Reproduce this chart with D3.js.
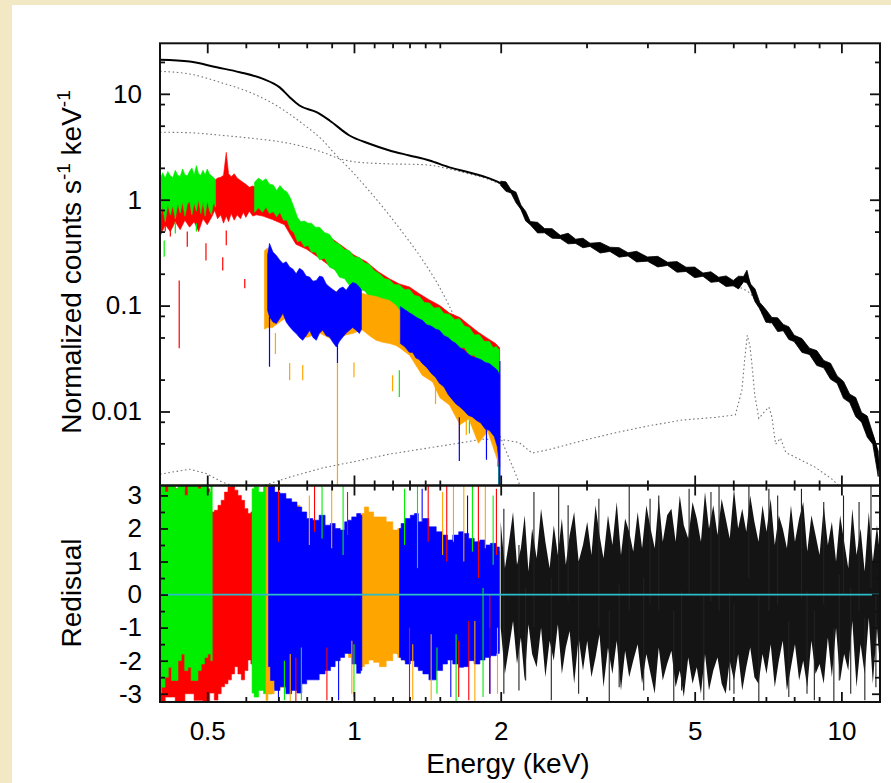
<!DOCTYPE html>
<html>
<head>
<meta charset="utf-8">
<script src="https://cdn.jsdelivr.net/npm/d3@7"></script>
<style>
  body { margin: 0; background: #f2e8c4; }
  svg { display: block; }
  text { font-family: "Liberation Sans", Arial, Helvetica, sans-serif; fill: #000; }
</style>
</head>
<body>
<svg id="spec" width="891" height="783"></svg>
<script>
// ----- model curves (keV, normalized counts s^-1 keV^-1) -----
const modelE = [0.40,0.46,0.523,0.583,0.649,0.704,0.738,0.773,0.838,0.891,0.979,1.076,1.183,1.299,1.428,1.57,1.725,1.895,2.034,2.133,2.204,2.289,2.399,2.726,3.185,3.722,4.369,5.105,5.966,6.2,6.374,6.556,7.003,7.552,8.184,8.866,9.561,10.36,11.23,11.77,12.0];
const modelTotal = [21.0,20.2,17.8,16.0,13.9,11.5,9.3,7.76,6.7,5.6,4.04,3.38,2.92,2.62,2.35,2.02,1.81,1.59,1.36,1.10,0.83,0.61,0.536,0.43,0.357,0.298,0.249,0.200,0.164,0.16,0.19,0.139,0.078,0.063,0.0441,0.0327,0.0230,0.0137,0.0078,0.0046,0.0025];

const softE = [0.4,0.46,0.538,0.611,0.693,0.785,0.863,0.92,0.979,1.059,1.146,1.249,1.385,1.497,1.619,1.766,1.895,1.987,2.181,2.3];
const softComp = [16.3,15.4,12.6,10.35,7.76,5.21,3.63,2.62,1.96,1.31,0.852,0.513,0.267,0.15,0.0727,0.0275,0.0123,0.0062,0.0021,0.001];

const powE = [0.4,0.46,0.537,0.631,0.713,0.796,0.862,0.934,1.01,1.183,1.362,1.428,1.57,1.725,1.895,2.034,2.133,2.204,2.289,2.399,2.726,3.185,3.722,4.369,5.105,5.966,6.2,6.556,7.003,7.552,8.184,8.866,9.561,10.36,11.23,11.77,12.0];
const powComp = [4.34,4.29,4.05,3.76,3.50,3.13,2.81,2.44,2.27,2.18,2.15,2.12,1.95,1.75,1.55,1.32,1.07,0.81,0.6,0.525,0.42,0.35,0.29,0.242,0.195,0.155,0.148,0.125,0.074,0.06,0.042,0.031,0.022,0.013,0.0074,0.0044,0.0024];

const lineE = [0.4,0.46,0.497,0.537,0.583,0.649,0.738,0.862,1.01,1.183,1.381,1.619,1.833,2.05,2.181,2.32,2.51,2.94,3.44,4.01,4.71,5.52,6.06,6.25,6.33,6.41,6.49,6.55,6.64,6.77,7.0,7.1,7.2,7.33,7.5,7.69,8.81,9.56,10.1,11.0];
const lineComp = [0.00256,0.00285,0.0026,0.00215,0.0019,0.00198,0.0024,0.00293,0.00339,0.00396,0.00443,0.00497,0.00548,0.00536,0.0051,0.00405,0.00436,0.0053,0.0063,0.0073,0.0083,0.0088,0.0093,0.0159,0.0305,0.0525,0.042,0.0285,0.0144,0.0086,0.0103,0.011,0.0089,0.0049,0.0056,0.0041,0.003,0.0023,0.0018,0.0012];

// ----- black data (2-12 keV): value and error half-height in dex -----
const blackE = [2.0,2.05,2.1,2.15,2.2,2.25,2.3,2.38,2.46,2.55,2.65,2.75,2.85,2.95,3.05,3.2,3.35,3.5,3.65,3.8,4.0,4.2,4.4,4.6,4.8,5.0,5.2,5.4,5.6,5.8,6.0,6.15,6.3,6.4,6.5,6.65,6.8,7.0,7.2,7.4,7.6,7.8,8.0,8.3,8.6,8.9,9.2,9.5,9.8,10.1,10.4,10.7,11.0,11.3,11.6,11.9];
const blackCounts = [1.43,1.33,1.2,1.05,0.85,0.7,0.6,0.545,0.51,0.48,0.445,0.43,0.405,0.39,0.375,0.352,0.34,0.318,0.305,0.29,0.275,0.26,0.248,0.232,0.22,0.206,0.196,0.186,0.177,0.17,0.163,0.165,0.178,0.188,0.152,0.125,0.1,0.08,0.073,0.066,0.062,0.055,0.049,0.042,0.037,0.032,0.028,0.024,0.02,0.016,0.0133,0.011,0.0088,0.0072,0.0055,0.0032];
const blackErr = [0.02,0.045,0.015,0.05,0.02,0.045,0.015,0.05,0.02,0.045,0.015,0.05,0.02,0.045,0.015,0.05,0.02,0.045,0.015,0.05,0.02,0.05,0.015,0.05,0.02,0.05,0.015,0.05,0.02,0.05,0.025,0.06,0.025,0.06,0.025,0.06,0.03,0.06,0.025,0.065,0.03,0.06,0.03,0.065,0.03,0.07,0.035,0.075,0.035,0.08,0.04,0.09,0.045,0.1,0.05,0.12];

// ----- coloured data bands (low / high edges) -----
const redE = [0.400,0.41,0.42,0.43,0.44,0.45,0.46,0.47,0.48,0.49,0.50,0.51,0.518,0.525,0.533,0.54,0.547,0.553,0.56,0.568,0.576,0.585,0.593,0.60,0.61,0.62,0.63,0.65,0.68,0.72,0.76,0.80,0.85,0.9,0.95,1.0,1.06,1.12,1.18,1.24,1.3,1.36,1.42,1.5,1.57,1.65,1.72,1.8,1.88,1.95,1.99];
const redHigh = [1.35,1.4,1.45,1.42,1.5,1.46,1.55,1.5,1.58,1.52,1.6,1.55,1.52,1.6,1.63,1.7,2.8,1.76,1.65,1.76,1.6,1.52,1.45,1.4,1.31,1.35,1.3,1.3,1.2,1.05,0.62,0.57,0.5,0.43,0.36,0.3,0.26,0.21,0.18,0.16,0.15,0.13,0.115,0.1,0.085,0.077,0.066,0.056,0.049,0.044,0.04];
const redLow = [0.45,0.58,0.5,0.62,0.52,0.64,0.55,0.62,0.5,0.66,0.58,0.68,0.79,0.66,0.72,0.6,0.7,0.62,0.74,0.64,0.72,0.66,0.76,0.68,0.78,0.7,0.72,0.7,0.65,0.58,0.38,0.34,0.28,0.23,0.19,0.16,0.135,0.115,0.098,0.085,0.075,0.068,0.06,0.052,0.045,0.04,0.034,0.028,0.025,0.022,0.02];

const greenE1 = [0.400,0.405,0.41,0.415,0.42,0.425,0.43,0.435,0.44,0.445,0.45,0.455,0.46,0.465,0.47,0.475,0.48,0.485,0.49,0.495,0.50,0.505,0.51,0.515,0.52];
const greenHigh1 = [1.55,1.8,1.6,1.85,1.68,1.62,1.9,1.7,1.66,1.95,1.72,1.68,1.86,2.0,1.72,2.1,1.76,1.7,1.9,1.72,1.95,1.76,1.68,1.62,1.55];
const greenLow1 = [0.68,0.85,0.62,0.9,0.72,0.88,0.66,0.92,0.75,0.95,0.7,0.9,0.98,0.72,0.93,0.78,1.0,0.74,0.95,0.7,0.98,0.8,0.72,0.95,0.85];

const greenE2 = [0.625,0.637,0.649,0.66,0.671,0.683,0.694,0.705,0.717,0.729,0.741,0.753,0.766,0.778,0.791,0.805,0.818,0.834,0.850,0.87,0.891,0.912,0.934,0.956,0.979,1.0,1.026,1.05,1.076,1.1,1.128,1.155,1.183,1.21,1.239,1.27,1.299,1.33,1.362,1.395,1.428,1.46,1.497,1.53,1.570,1.61,1.645,1.685,1.725,1.765,1.808,1.85,1.895,1.93,1.96,1.985];
const greenHigh2 = [1.46,1.6,1.5,1.58,1.4,1.38,1.22,1.36,1.24,1.18,1.03,0.85,0.68,0.62,0.63,0.6,0.6,0.55,0.55,0.49,0.47,0.4,0.38,0.34,0.33,0.29,0.285,0.255,0.245,0.215,0.2,0.18,0.175,0.158,0.157,0.142,0.143,0.125,0.122,0.107,0.106,0.095,0.096,0.084,0.083,0.074,0.075,0.064,0.062,0.053,0.053,0.046,0.046,0.04,0.041,0.038];
const greenLow2 = [0.76,0.84,0.76,0.85,0.74,0.77,0.69,0.76,0.64,0.64,0.52,0.49,0.4,0.41,0.36,0.37,0.32,0.32,0.27,0.28,0.23,0.22,0.185,0.18,0.155,0.16,0.14,0.14,0.12,0.118,0.104,0.102,0.091,0.09,0.081,0.081,0.074,0.074,0.067,0.066,0.059,0.058,0.051,0.051,0.045,0.045,0.04,0.04,0.034,0.034,0.029,0.029,0.025,0.025,0.021,0.018];

const orangeE = [0.655,0.665,0.68,0.72,0.76,0.8,0.85,0.9,0.95,1.0,1.026,1.042,1.076,1.11,1.146,1.183,1.22,1.24,1.3,1.38,1.45,1.5,1.57,1.65,1.72,1.8,1.88,1.95,1.99];
const orangeHigh = [0.33,0.35,0.3,0.24,0.2,0.18,0.16,0.14,0.13,0.14,0.13,0.13,0.125,0.122,0.116,0.112,0.10,0.09,0.085,0.07,0.06,0.055,0.045,0.04,0.034,0.03,0.027,0.024,0.02];
const orangeLow = [0.06,0.062,0.062,0.075,0.058,0.05,0.055,0.048,0.052,0.055,0.058,0.0585,0.052,0.047,0.045,0.0438,0.042,0.04,0.034,0.022,0.019,0.0135,0.0115,0.0075,0.0085,0.005,0.0065,0.004,0.003];

const blueE1 = [0.665,0.671,0.682,0.693,0.704,0.715,0.726,0.738,0.75,0.761,0.773,0.785,0.798,0.811,0.824,0.837,0.85,0.863,0.877,0.891,0.905,0.920,0.934,0.949,0.964,0.979,0.994,1.010,1.026,1.036];
const blueHigh1 = [0.30,0.387,0.32,0.298,0.27,0.250,0.26,0.232,0.22,0.20,0.225,0.215,0.19,0.186,0.17,0.173,0.19,0.186,0.16,0.150,0.142,0.134,0.145,0.150,0.14,0.155,0.165,0.161,0.150,0.14];
const blueLow1 = [0.09,0.0784,0.07,0.0676,0.075,0.0846,0.07,0.063,0.058,0.0545,0.05,0.047,0.052,0.0585,0.05,0.047,0.055,0.0585,0.052,0.0505,0.045,0.0406,0.046,0.0505,0.055,0.0585,0.062,0.0585,0.0545,0.06];

const blueE2 = [1.245,1.27,1.299,1.32,1.34,1.36,1.381,1.41,1.44,1.47,1.497,1.53,1.56,1.59,1.619,1.65,1.68,1.715,1.749,1.785,1.82,1.86,1.895,1.94,1.968,1.99];
const blueHigh2 = [0.0979,0.092,0.0858,0.082,0.078,0.075,0.0727,0.066,0.064,0.06,0.0585,0.052,0.05,0.046,0.0438,0.04,0.038,0.035,0.0328,0.032,0.031,0.029,0.0284,0.026,0.0245,0.022];
const blueLow2 = [0.0438,0.041,0.0362,0.036,0.032,0.031,0.0284,0.026,0.023,0.021,0.0185,0.017,0.0145,0.013,0.0118,0.011,0.0102,0.0092,0.00889,0.0082,0.0078,0.0068,0.00666,0.0058,0.00464,0.003];

// isolated error bars [keV, low, high]
const redSpikes = [[0.438,0.0395,0.173],[0.497,0.267,0.387],[0.538,0.215,0.286],[0.547,0.371,0.513],[0.597,0.146,0.178],[0.41,0.5,0.62],[0.42,0.45,0.7],[0.455,0.36,0.5],[1.975,0.003,0.03]];
const greenSpikes = [[0.408,0.29,0.413],[0.475,0.5,0.6],[0.43,0.48,0.62],[1.239,0.0137,0.0245],[1.725,0.0062,0.0088],[1.982,0.002,0.025]];
const orangeSpikes = [[0.925,0.00202,0.0287],[0.738,0.0197,0.0287],[0.785,0.0197,0.0275],[1.0,0.021,0.029],[1.2,0.0155,0.022],[1.47,0.0118,0.0172],[1.645,0.0054,0.0105],[1.7,0.006,0.012],[0.69,0.035,0.055]];
const blueSpikes = [[0.671,0.0264,0.078],[0.925,0.0287,0.047],[1.645,0.0034,0.0088],[1.87,0.0035,0.0067],[1.985,0.002,0.012],[1.992,0.002,0.03]];

// ----- residuals (sigma) -----
const resRedE = [0.400,0.42,0.44,0.46,0.48,0.50,0.512,0.522,0.530,0.538,0.547,0.556,0.565,0.573,0.583,0.592,0.601,0.611,0.618];
const resRedHigh = [3.3,3.3,3.2,3.3,3.3,3.2,2.5,2.55,2.7,2.85,3.1,3.26,3.3,3.16,3.0,2.85,2.6,2.45,2.5];
const resRedLow = [-3.25,-3.1,-3.25,-3.0,-3.2,-3.25,-2.98,-3.19,-3.0,-2.79,-2.7,-2.58,-2.4,-2.18,-2.4,-2.58,-2.3,-1.98,-2.1];

const resGreenE1 = [0.400,0.406,0.413,0.419,0.426,0.432,0.439,0.446,0.453,0.460,0.467,0.475,0.482,0.490,0.497,0.505,0.512];
const resGreenHigh1 = [3.3,3.3,3.1,3.3,3.3,3.2,3.3,3.3,3.0,3.3,3.3,3.3,3.2,3.3,3.3,3.1,3.3];
const resGreenLow1 = [-3.0,-2.8,-2.5,-2.2,-2.6,-2.6,-2.0,-1.8,-2.3,-2.2,-2.6,-2.6,-2.3,-2.1,-1.9,-1.8,-2.0];

const resGreenE2 = [0.618,0.63,0.645,0.66,0.70,0.75,0.80,0.85,0.90,0.95,1.0,1.05,1.1,1.15,1.2,1.25,1.3,1.35,1.4,1.45,1.5,1.55,1.6,1.65,1.7,1.75,1.8,1.85,1.9,1.95,1.99];
const resGreenHigh2 = [3.2,3.26,3.1,3.26,2.9,2.6,2.2,2.0,1.9,1.8,2.0,2.0,1.9,2.0,1.8,1.9,2.1,2.0,1.9,1.8,1.7,1.6,1.6,1.6,1.5,1.5,1.5,1.4,1.4,1.3,1.3];
const resGreenLow2 = [-2.98,-3.1,-2.9,-3.0,-2.7,-2.6,-2.4,-2.3,-2.0,-1.7,-1.8,-1.8,-1.8,-1.9,-1.7,-1.8,-1.9,-2.0,-2.2,-2.3,-2.1,-1.9,-1.9,-2.0,-1.9,-1.9,-1.8,-1.8,-1.7,-1.7,-1.7];

const resOrangeE = [0.66,0.672,0.70,0.75,0.80,0.85,0.90,0.95,1.0,1.03,1.042,1.059,1.085,1.11,1.146,1.183,1.22,1.24,1.3,1.4,1.5,1.6,1.7,1.8,1.9,1.99];
const resOrangeHigh = [3.3,3.3,3.0,2.7,2.2,2.0,1.9,1.8,2.1,2.4,2.45,2.65,2.5,2.35,2.35,2.2,1.95,2.0,2.0,1.8,1.6,1.5,1.5,1.4,1.4,1.3];
const resOrangeLow = [-3.2,-3.0,-2.8,-2.6,-2.4,-2.2,-2.0,-1.7,-1.9,-2.2,-2.18,-2.1,-1.98,-2.05,-2.18,-2.0,-1.78,-1.9,-2.0,-2.2,-2.0,-1.9,-1.8,-1.8,-1.7,-1.6];

const resBlueE1 = [0.668,0.68,0.695,0.715,0.735,0.755,0.773,0.79,0.81,0.837,0.86,0.885,0.905,0.925,0.949,0.965,0.979,1.0,1.026,1.038];
const resBlueHigh1 = [3.26,3.3,3.1,3.06,2.9,2.8,2.65,2.5,2.3,2.25,2.4,2.1,2.15,2.0,1.95,2.2,2.25,2.35,2.45,2.4];
const resBlueLow1 = [-2.18,-2.6,-2.9,-2.79,-3.0,-2.9,-2.98,-2.7,-2.58,-2.58,-2.4,-2.3,-2.18,-2.0,-1.9,-1.78,-1.78,-2.1,-2.38,-2.3];

const resBlueE2 = [1.24,1.259,1.29,1.32,1.341,1.37,1.4,1.45,1.5,1.54,1.57,1.62,1.66,1.698,1.74,1.79,1.835,1.88,1.93,1.987];
const resBlueHigh2 = [2.0,2.15,2.3,2.4,2.45,2.2,2.3,2.05,1.9,1.8,1.65,1.8,1.9,1.85,1.7,1.6,1.65,1.5,1.55,1.44];
const resBlueLow2 = [-1.9,-1.98,-2.1,-2.0,-2.18,-2.3,-2.4,-2.58,-2.3,-2.1,-1.98,-2.1,-2.2,-2.18,-2.0,-2.1,-1.98,-1.9,-1.85,-1.78];

const resBlackE = [2.00,2.04,2.08,2.12,2.16,2.20,2.24,2.28,2.32,2.37,2.42,2.47,2.52,2.57,2.62,2.67,2.72,2.77,2.83,2.89,2.95,3.01,3.07,3.13,3.19,3.25,3.32,3.39,3.46,3.53,3.6,3.67,3.74,3.82,3.9,3.98,4.06,4.14,4.22,4.3,4.39,4.48,4.57,4.66,4.75,4.85,4.95,5.05,5.15,5.25,5.35,5.46,5.57,5.68,5.79,5.9,6.02,6.14,6.26,6.38,6.5,6.63,6.76,6.89,7.02,7.16,7.3,7.44,7.58,7.73,7.88,8.03,8.19,8.35,8.51,8.68,8.85,9.02,9.2,9.38,9.56,9.75,9.94,10.13,10.33,10.53,10.74,10.95,11.16,11.38,11.6,11.83,12.0];
const resBlackHigh = [2.2,0.8,1.6,2.5,0.9,1.4,2.4,0.7,2.0,1.1,2.6,1.6,0.8,2.1,1.2,2.3,0.9,1.8,2.5,1.0,1.5,2.2,1.2,2.7,1.8,1.1,2.4,1.5,2.8,1.2,2.3,1.9,1.3,2.5,1.4,2.7,2.0,1.4,2.9,1.6,2.4,2.6,1.6,3.0,2.1,1.7,2.8,2.3,1.6,3.1,2.0,2.7,1.8,2.9,2.3,1.7,3.2,2.0,2.6,1.9,3.0,2.2,1.6,2.7,1.9,2.9,1.5,2.4,2.0,1.4,2.7,1.6,2.3,2.8,1.3,2.4,1.8,1.2,2.7,1.5,2.2,1.0,2.4,1.6,0.8,2.6,1.2,2.0,0.7,2.5,1.0,2.1,1.2];
const resBlackLow = [-1.0,-2.4,-1.6,-0.8,-2.1,-1.3,-2.6,-0.9,-1.8,-2.2,-1.0,-2.5,-1.4,-2.0,-0.9,-2.4,-1.6,-1.1,-2.7,-1.3,-2.3,-1.4,-2.5,-1.9,-1.2,-2.8,-1.6,-2.4,-1.4,-2.9,-1.7,-2.5,-2.0,-1.5,-2.7,-1.8,-2.4,-3.0,-1.6,-2.6,-2.1,-1.7,-2.8,-2.3,-3.1,-1.9,-2.7,-2.2,-3.0,-1.8,-2.9,-2.3,-1.9,-2.7,-3.0,-2.0,-2.6,-1.8,-2.9,-2.2,-1.6,-2.5,-2.7,-1.8,-2.4,-1.5,-2.8,-2.0,-1.4,-2.9,-2.2,-1.5,-2.6,-2.0,-2.8,-1.4,-2.4,-2.1,-2.7,-1.3,-2.5,-1.0,-2.6,-1.8,-2.3,-0.8,-2.8,-1.5,-2.4,-0.7,-2.7,-1.0,-2.2];
const resBlackSpikes = [[2.03,-3.0,2.6],[2.18,-2.9,1.5],[2.34,-1.0,3.1],[2.54,-3.2,0.5],[2.63,0.0,3.3],[2.89,-3.0,1.0],[3.18,-1.0,2.9],[3.34,-3.25,-0.5],[3.67,-0.5,3.3],[3.93,-2.9,0.5],[4.22,-0.5,3.0],[4.53,-3.25,-0.5],[4.87,0.0,3.2],[5.22,-3.2,0.0],[5.61,-0.5,3.3],[6.02,-3.0,-0.3],[6.46,0.5,3.3],[6.77,-3.25,0.0],[7.1,-0.5,3.2],[7.8,-3.1,-0.8],[8.28,-0.1,3.2],[8.8,-3.2,-0.5],[9.2,-0.3,2.8],[9.65,-3.25,-1.0],[10.1,0.0,3.0],[10.45,-3.0,0.2],[10.87,-0.5,2.8],[11.17,-3.2,-0.7],[11.5,0.2,3.3],[11.77,-2.8,0.0],[2.25,-2.6,0.2],[2.75,-0.2,2.7],[3.5,-2.8,0.3],[4.05,-0.3,2.9],[4.7,-2.9,0.1],[5.4,-0.2,3.1],[5.9,-2.9,0.1],[7.4,-0.3,3.0],[8.5,-3.0,0.1],[9.9,-2.6,0.6]];

const redResSpikes = [[0.70,1.6,3.3],[0.76,-3.25,-1.9],[0.83,1.9,3.3],[0.88,-3.2,-1.6],[0.97,1.8,3.1],[1.3,-3.25,-1.0],[1.42,1.6,3.3],[1.55,1.0,3.3],[1.64,-3.1,-1.4],[1.72,-3.2,-0.8],[1.8,0.5,3.3],[1.9,-3.0,0.0],[1.96,1.2,3.2]];
const greenResSpikes = [[0.72,-3.2,-2.0],[0.78,-3.2,-1.6],[0.86,1.7,3.3],[0.95,1.2,3.3],[1.0,-3.1,-1.5],[1.27,1.5,3.2],[1.35,0.8,3.3],[1.48,-3.0,-1.6],[1.62,-3.25,-1.2],[1.75,1.3,3.3],[1.84,-3.1,0.2],[1.93,0.9,3.0]];
const orangeResSpikes = [[0.74,-3.25,-1.8],[0.81,1.5,3.0],[0.9,1.4,3.3],[0.99,-3.0,-1.4],[1.32,-3.2,-1.5],[1.44,-3.2,-1.2],[1.52,1.2,3.1],[1.6,1.6,3.3],[1.68,1.0,3.3],[1.77,-3.25,-0.8],[1.86,1.4,3.3],[1.97,-3.0,-1.0]];
const blueResSpikes = [[0.7,-3.25,-1.5],[0.93,-3.2,-1.2],[1.38,1.5,3.2],[1.58,-3.1,-1.2],[1.71,1.2,3.0],[1.9,-3.0,-1.0]];

// ----- axis ticks -----
const xMajor = [0.5, 1, 2, 5, 10];
const xLabels = ["0.5", "1", "2", "5", "10"];
const xMinor = [0.6, 0.7, 0.8, 0.9, 1.1, 1.2, 1.3, 1.4, 1.5, 3, 4, 6, 7, 8, 9];
const yMajor = [0.01, 0.1, 1, 10];
const yLabels = ["0.01", "0.1", "1", "10"];
const yMinor = [0.005, 0.008, 0.02, 0.05, 0.08, 0.2, 0.5, 0.8, 2, 5, 8, 20];
const rMajor = [-3, -2, -1, 0, 1, 2, 3];
const rMinor = [-2.5, -1.5, -0.5, 0.5, 1.5, 2.5];

// ----- layout -----
const svg = d3.select("svg#spec");
const L = 160, R = 880, T = 43.3, MID = 485.5, B = 702;

svg.append("rect").attr("x", 12).attr("y", 5).attr("width", 891 - 12).attr("height", 783 - 5).attr("fill", "#ffffff");

const x = d3.scaleLog().domain([0.4, 12]).range([L, R]);
const yTop = d3.scaleLog().domain([0.002, 30]).range([MID, T]);
const yRes = d3.scaleLinear().domain([-3.25, 3.3]).range([B, MID]);

const defs = svg.append("defs");
defs.append("clipPath").attr("id", "clipTop").append("rect")
    .attr("x", L).attr("y", T).attr("width", R - L).attr("height", MID - T);
defs.append("clipPath").attr("id", "clipRes").append("rect")
    .attr("x", L).attr("y", MID).attr("width", R - L).attr("height", B - MID);

const topG = svg.append("g").attr("clip-path", "url(#clipTop)");
const resG = svg.append("g").attr("clip-path", "url(#clipRes)");

function zipRows(E, a, b) {
    return E.map((e, i) => ({ e: e, lo: a[i], hi: b[i] }));
}

function band(g, E, lo, hi, y, color, curve) {
    g.append("path")
        .datum(zipRows(E, lo, hi))
        .attr("d", d3.area()
            .x(d => x(d.e))
            .y0(d => y(d.lo))
            .y1(d => y(d.hi))
            .curve(curve || d3.curveLinear))
        .attr("fill", color)
        .attr("stroke", color)
        .attr("stroke-width", 0.6);
}

function spikes(g, list, y, color, w) {
    g.selectAll(null)
        .data(list)
        .join("line")
        .attr("x1", d => x(d[0])).attr("x2", d => x(d[0]))
        .attr("y1", d => y(d[1])).attr("y2", d => y(d[2]))
        .attr("stroke", color)
        .attr("stroke-width", w || 1.2);
}

function curveLine(g, E, V, opts) {
    g.append("path")
        .datum(E.map((e, i) => [e, V[i]]))
        .attr("d", d3.line()
            .x(d => x(d[0]))
            .y(d => yTop(d[1]))
            .curve(opts.curve || d3.curveMonotoneX))
        .attr("fill", "none")
        .attr("stroke", opts.color)
        .attr("stroke-width", opts.width)
        .attr("stroke-dasharray", opts.dash || null);
}

// dotted model components
const dotted = { color: "#777", width: 1.1, dash: "1.6,2.6" };
curveLine(topG, softE, softComp, dotted);
curveLine(topG, powE, powComp, dotted);
curveLine(topG, lineE, lineComp, Object.assign({}, dotted, { curve: d3.curveLinear }));

// total model
curveLine(topG, modelE, modelTotal, { color: "#000", width: 2 });

// coloured data
band(topG, redE, redLow, redHigh, yTop, "#ff0000");
spikes(topG, redSpikes, yTop, "#ff0000");
band(topG, greenE1, greenLow1, greenHigh1, yTop, "#00ee00");
band(topG, greenE2, greenLow2, greenHigh2, yTop, "#00ee00");
spikes(topG, greenSpikes, yTop, "#00ee00");
band(topG, orangeE, orangeLow, orangeHigh, yTop, "#ffa500");
spikes(topG, orangeSpikes, yTop, "#ffa500");
band(topG, blueE1, blueLow1, blueHigh1, yTop, "#0000ff");
band(topG, blueE2, blueLow2, blueHigh2, yTop, "#0000ff");
spikes(topG, blueSpikes, yTop, "#0000ff");

// black data band
topG.append("path")
    .datum(blackE.map((e, i) => ({ e: e, v: blackCounts[i], s: blackErr[i] })))
    .attr("d", d3.area()
        .x(d => x(d.e))
        .y0(d => yTop(d.v / Math.pow(10, d.s)))
        .y1(d => yTop(d.v * Math.pow(10, d.s))))
    .attr("fill", "#000")
    .attr("stroke", "#000")
    .attr("stroke-width", 0.8);

// residual panel
band(resG, resRedE, resRedLow, resRedHigh, yRes, "#ff0000", d3.curveStep);
band(resG, resGreenE1, resGreenLow1, resGreenHigh1, yRes, "#00ee00", d3.curveStep);
band(resG, resGreenE2, resGreenLow2, resGreenHigh2, yRes, "#00ee00", d3.curveStep);
band(resG, resOrangeE, resOrangeLow, resOrangeHigh, yRes, "#ffa500", d3.curveStep);
band(resG, resBlueE1, resBlueLow1, resBlueHigh1, yRes, "#0000ff", d3.curveStep);
band(resG, resBlueE2, resBlueLow2, resBlueHigh2, yRes, "#0000ff", d3.curveStep);
spikes(resG, redResSpikes, yRes, "#ff0000", 1.1);
spikes(resG, greenResSpikes, yRes, "#00ee00", 1.1);
spikes(resG, orangeResSpikes, yRes, "#ffa500", 1.1);
spikes(resG, blueResSpikes, yRes, "#0000ff", 1.1);

resG.append("path")
    .datum(zipRows(resBlackE, resBlackLow, resBlackHigh))
    .attr("d", d3.area().x(d => x(d.e)).y0(d => yRes(d.lo)).y1(d => yRes(d.hi)))
    .attr("fill", "#000")
    .attr("opacity", 0.92);
spikes(resG, resBlackSpikes, yRes, "#222", 1.1);

// zero line
resG.append("line")
    .attr("x1", L).attr("x2", R)
    .attr("y1", yRes(0)).attr("y2", yRes(0))
    .attr("stroke", "#2bbcc8").attr("stroke-width", 1.6);

// ----- axes -----
function tidy(g) {
    g.select(".domain").remove();
    g.selectAll(".tick line").attr("stroke", "#111").attr("stroke-width", 1.8);
    g.selectAll("text").attr("font-size", 26).attr("font-family", "Liberation Sans, Arial, sans-serif").attr("fill", "#000");
}

function xAxes(yPos, dir, labels) {
    const make = dir === "up" ? d3.axisBottom : d3.axisTop;
    svg.append("g").attr("transform", "translate(0," + yPos + ")")
        .call(make(x).tickValues(xMajor).tickSize(-10).tickPadding(19.5)
            .tickFormat((d, i) => labels ? xLabels[i] : ""))
        .call(tidy);
    svg.append("g").attr("transform", "translate(0," + yPos + ")")
        .call(make(x).tickValues(xMinor).tickSize(-5).tickFormat(""))
        .call(tidy);
}
xAxes(T, "down", false);
xAxes(MID, "up", false);
xAxes(MID, "down", false);
xAxes(B, "up", true);

function yAxes(scale, major, minor, labels, majorLen) {
    svg.append("g").attr("transform", "translate(" + L + ",0)")
        .call(d3.axisLeft(scale).tickValues(major).tickSize(-majorLen).tickPadding(18)
            .tickFormat((d, i) => labels[i]))
        .call(tidy);
    svg.append("g").attr("transform", "translate(" + L + ",0)")
        .call(d3.axisLeft(scale).tickValues(minor).tickSize(-5).tickFormat(""))
        .call(tidy);
    svg.append("g").attr("transform", "translate(" + R + ",0)")
        .call(d3.axisRight(scale).tickValues(major).tickSize(-majorLen).tickFormat(""))
        .call(tidy);
    svg.append("g").attr("transform", "translate(" + R + ",0)")
        .call(d3.axisRight(scale).tickValues(minor).tickSize(-5).tickFormat(""))
        .call(tidy);
}
yAxes(yTop, yMajor, yMinor, yLabels, 10);
yAxes(yRes, rMajor, rMinor, rMajor.map(String), 8);

// frames
svg.append("rect").attr("x", L).attr("y", T).attr("width", R - L).attr("height", MID - T)
    .attr("fill", "none").attr("stroke", "#111").attr("stroke-width", 2);
svg.append("rect").attr("x", L).attr("y", MID).attr("width", R - L).attr("height", B - MID)
    .attr("fill", "none").attr("stroke", "#111").attr("stroke-width", 2);

// ----- titles -----
svg.append("text")
    .attr("x", 508).attr("y", 773)
    .attr("text-anchor", "middle").attr("font-size", 28)
    .text("Energy (keV)");

const yt = svg.append("text")
    .attr("transform", "translate(81," + 262 + ") rotate(-90)")
    .attr("text-anchor", "middle").attr("font-size", 28);
yt.append("tspan").text("Normalized counts s");
yt.append("tspan").attr("font-size", 19).attr("dy", -11).text("-1");
yt.append("tspan").attr("dy", 11).text(" keV");
yt.append("tspan").attr("font-size", 19).attr("dy", -11).text("-1");

svg.append("text")
    .attr("transform", "translate(81," + 593 + ") rotate(-90)")
    .attr("text-anchor", "middle").attr("font-size", 28)
    .text("Redisual");
</script>
</body>
</html>
